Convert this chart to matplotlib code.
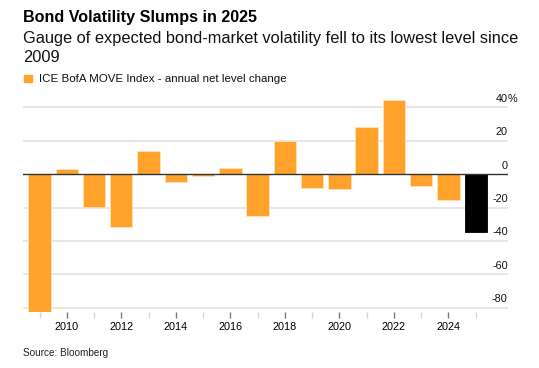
import matplotlib
matplotlib.use("Agg")
import matplotlib.pyplot as plt
from matplotlib.transforms import ScaledTranslation, blended_transform_factory

plt.rcParams['font.family'] = ['Liberation Sans', 'DejaVu Sans']

years = list(range(2009, 2026))
values = [-83, 2.8, -19.4, -31.6, 14, -4.6, -1.2, 3.8, -25, 20, -8.4, -9.2, 28, 44.6, -7, -15.8, -34.8]
colors = ['#FFA22C'] * (len(years) - 1) + ['#000000']
edgecolors = ['#FFE2B8'] * (len(years) - 1) + ['#000000']
ytick_vals = [40, 20, 0, -20, -40, -60, -80]
xtick_major = list(range(2010, 2025, 2))
xtick_minor = list(range(2009, 2026, 2))

W, H = 539, 368
fig = plt.figure(figsize=(W / 100, H / 100), dpi=100)
renderer = fig.canvas.get_renderer()

def px(x0, y0, x1, y1):
    return [x0 / W, 1 - y1 / H, (x1 - x0) / W, (y1 - y0) / H]

def fit_text(x, y, s, target_w, size, **kw):
    t = fig.text(x / W, 1 - y / H, s, fontsize=size, **kw)
    w = t.get_window_extent(renderer).width
    t.set_fontsize(size * target_w / w)
    return t

ax = fig.add_axes(px(22.7, 95, 507.7, 312))
for s in ax.spines.values():
    s.set_visible(False)

ax.set_xlim(2008.383, 2026.174)
ax.set_ylim(-82.6, 47.4)

for v in ytick_vals:
    if v != 0:
        ax.axhline(v, color='#e3e3e3', lw=1.2, zorder=0)

ax.bar(years, values, width=0.82, color=colors, edgecolor=edgecolors, linewidth=0.6, zorder=2)
ax.axhline(0, color='#333333', lw=1.0, zorder=3)

ax.yaxis.tick_right()
ax.set_yticks(ytick_vals)
ax.set_yticklabels([str(v) for v in ytick_vals])
ax.tick_params(axis='y', length=0, pad=0, labelsize=7.8, labelcolor='#111111')
off = ScaledTranslation(0, 4 / 72, fig.dpi_scale_trans)
for lab in ax.get_yticklabels():
    lab.set_ha('right')
    lab.set_va('baseline')
    lab.set_transform(lab.get_transform() + off)
trans = blended_transform_factory(ax.transAxes, ax.transData)
ax.text(1.0, 40, '%', transform=trans + off, ha='left', va='baseline', fontsize=7.8, color='#111111')

ax.set_xticks(xtick_major)
ax.set_xticklabels([str(y) for y in xtick_major])
ax.set_xticks(xtick_minor, minor=True)
ax.tick_params(axis='x', which='major', length=4, width=1, color='#777777', pad=3, labelsize=7.8)
ax.tick_params(axis='x', which='minor', length=4, width=1, color='#d5d5d5')

fit_text(23, 22, 'Bond Volatility Slumps in 2025', 235, 11.5, fontweight='bold',
         ha='left', va='baseline', color='#000000')
fit_text(23, 43.5, 'Gauge of expected bond-market volatility fell to its lowest level since', 495, 10,
         ha='left', va='baseline', color='#111111')
fig.text(23 / W, 1 - 62.5 / H, '2009', fontsize=fig.texts[-1].get_fontsize(),
         ha='left', va='baseline', color='#111111')
fig.patches.append(plt.Rectangle((24 / W, 1 - 82 / H), 7.5 / W, 7 / H, transform=fig.transFigure,
                                 color='#FFA22C'))
fit_text(39, 78.5, 'ICE BofA MOVE Index - annual net level change', 248, 7.8,
         ha='left', va='center', color='#111111')
fit_text(23, 353, 'Source: Bloomberg', 85, 7, ha='left', va='center', color='#222222')

fig.savefig('out.png', dpi=100)
